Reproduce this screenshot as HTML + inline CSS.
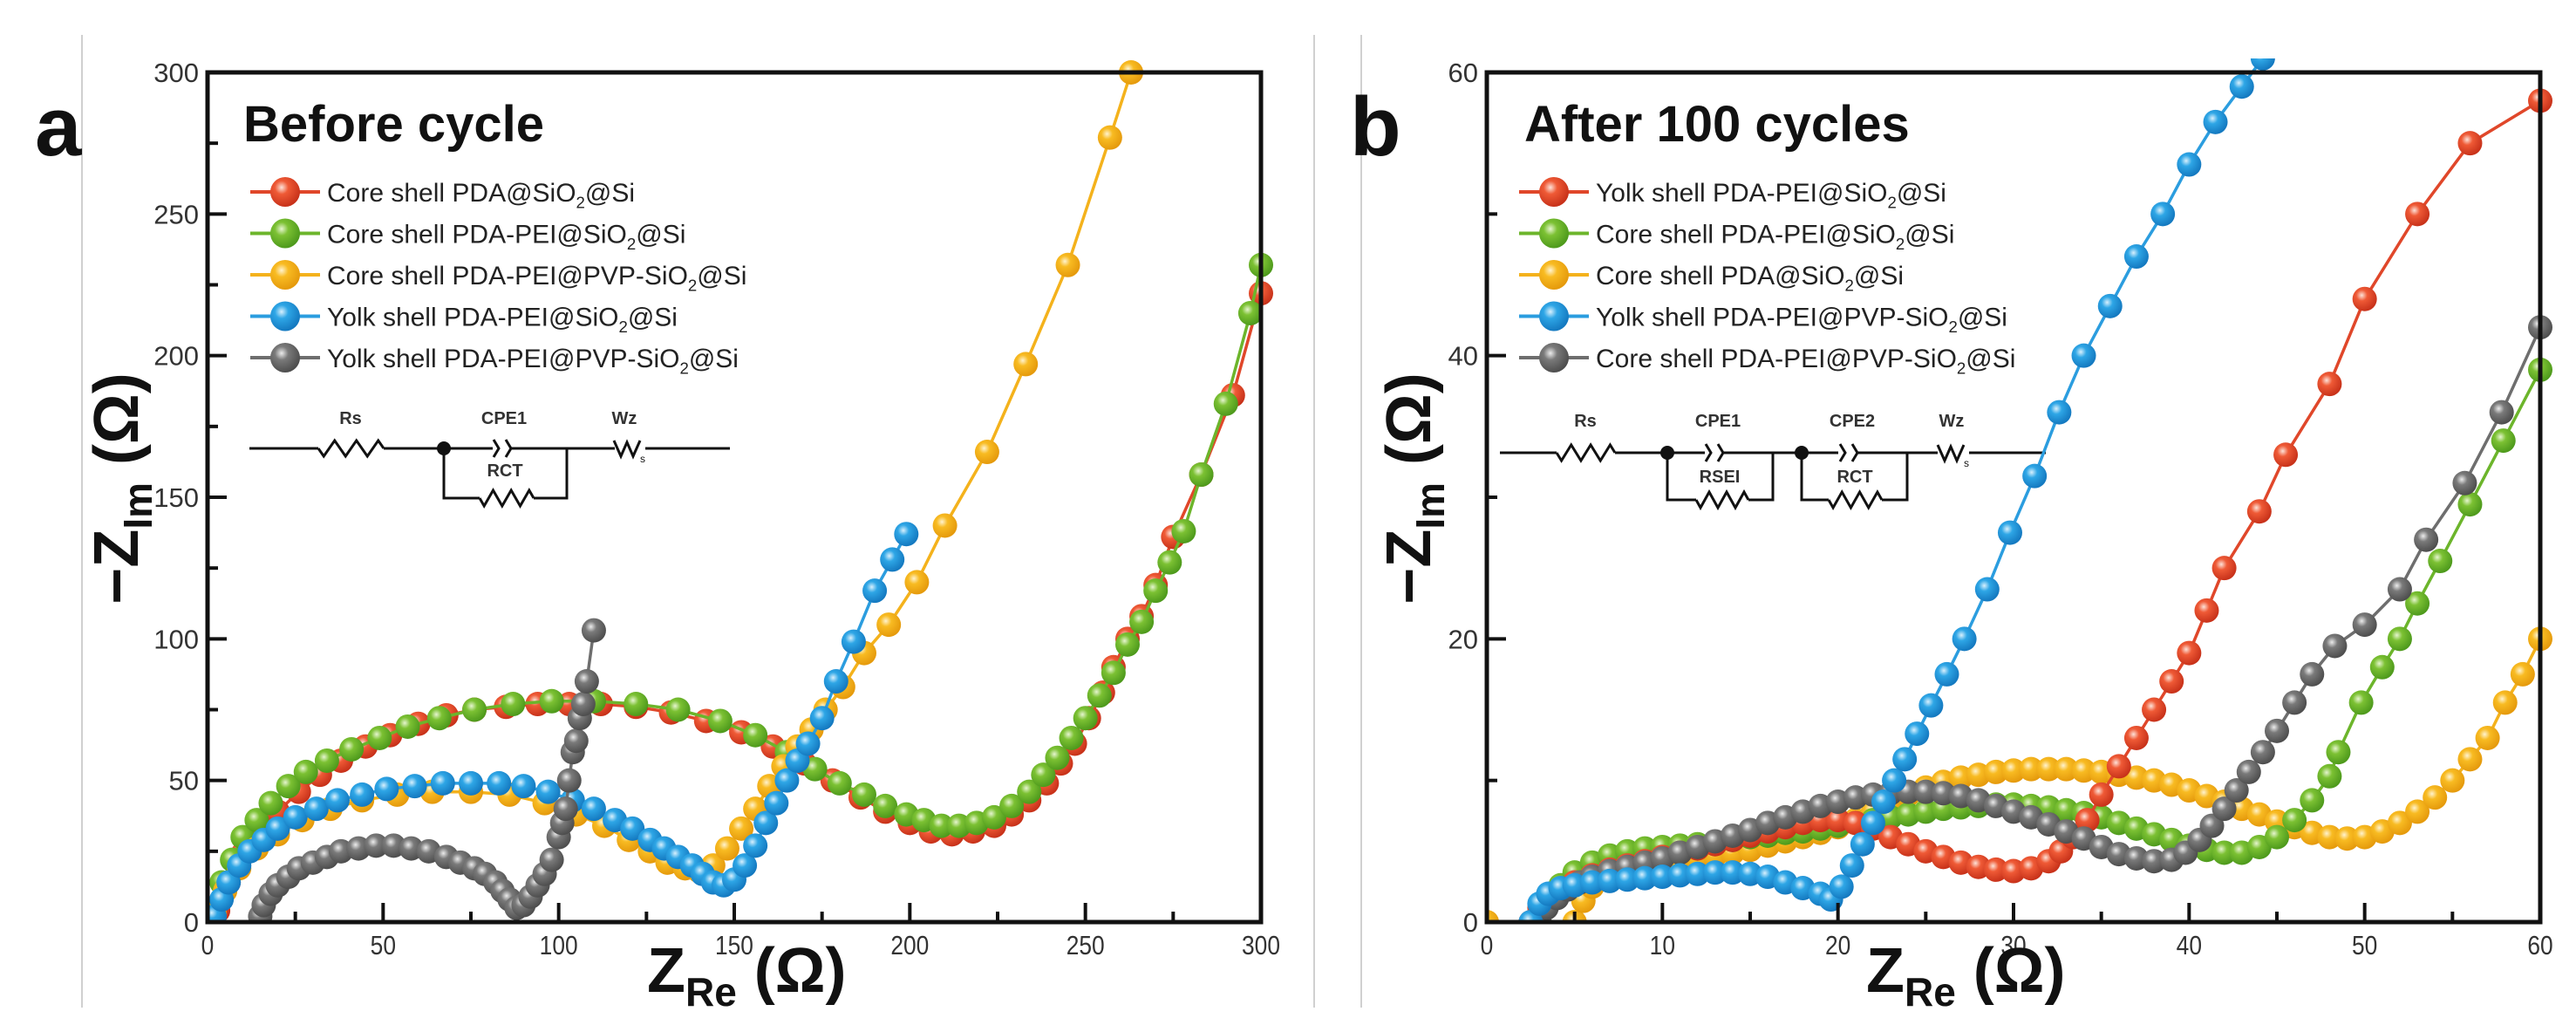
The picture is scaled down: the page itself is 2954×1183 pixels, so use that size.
<!DOCTYPE html>
<html><head><meta charset="utf-8">
<style>
html,body{margin:0;padding:0;background:#fff;}
svg{display:block;font-family:"Liberation Sans",Arial,sans-serif;}
</style></head>
<body>
<svg id="fig" width="2954" height="1183" viewBox="0 0 2954 1183" xmlns="http://www.w3.org/2000/svg">
<defs>
<radialGradient id="g-red" cx="0.38" cy="0.35" r="0.65"><stop offset="0" stop-color="#fde2d8"/><stop offset="0.35" stop-color="#ef5a36"/><stop offset="1" stop-color="#c8321a"/></radialGradient>
<radialGradient id="g-green" cx="0.38" cy="0.35" r="0.65"><stop offset="0" stop-color="#e6f5cf"/><stop offset="0.35" stop-color="#7cc133"/><stop offset="1" stop-color="#4e9a1c"/></radialGradient>
<radialGradient id="g-yellow" cx="0.38" cy="0.35" r="0.65"><stop offset="0" stop-color="#fff3cf"/><stop offset="0.35" stop-color="#f8bb22"/><stop offset="1" stop-color="#e59a0c"/></radialGradient>
<radialGradient id="g-blue" cx="0.38" cy="0.35" r="0.65"><stop offset="0" stop-color="#d8f0fd"/><stop offset="0.35" stop-color="#2ea6e6"/><stop offset="1" stop-color="#1479c0"/></radialGradient>
<radialGradient id="g-grey" cx="0.38" cy="0.35" r="0.65"><stop offset="0" stop-color="#ececec"/><stop offset="0.35" stop-color="#7a7a7a"/><stop offset="1" stop-color="#4e4e4e"/></radialGradient>
</defs>
<line x1="94" y1="40" x2="94" y2="1155" stroke="#d0d0d0" stroke-width="2"/>
<line x1="1507" y1="40" x2="1507" y2="1155" stroke="#d0d0d0" stroke-width="2"/>
<line x1="1561" y1="40" x2="1561" y2="1155" stroke="#d0d0d0" stroke-width="2"/>
<g id="panelA"></g>
<g id="panelB"></g>
</svg>
<script>
// ---------- Panel a data (Before cycle) ----------
const aXTicks = [0, 50, 100, 150, 200, 250, 300];
const aYTicks = [0, 50, 100, 150, 200, 250, 300];
const aLabels = ["Core shell PDA@SiO|2|@Si", "Core shell PDA-PEI@SiO|2|@Si", "Core shell PDA-PEI@PVP-SiO|2|@Si", "Yolk shell PDA-PEI@SiO|2|@Si", "Yolk shell PDA-PEI@PVP-SiO|2|@Si"];
const aColors = ["red", "green", "yellow", "blue", "grey"];
const aRedX = [3,6,10,15,20,26,32,38,45,52,60,68,76,85,94,103,112,122,132,142,152,161,170,178,186,193,200,206,212,218,224,229,234,239,243,247,251,255,258,262,266,270,275,283,292,300];
const aRedY = [4,14,24,32,39,46,52,57,62,66,70,73,75,76,77,77,77,76,74,71,67,62,56,50,44,39,35,32,31,32,34,38,43,49,56,63,72,81,90,100,108,119,136,158,186,222];
const aGreenX = [2,4,7,10,14,18,23,28,34,41,49,57,66,76,87,98,110,122,134,146,156,165,173,180,187,193,199,204,209,214,219,224,229,234,238,242,246,250,254,258,262,266,270,274,278,283,290,297,300];
const aGreenY = [5,14,22,30,36,42,48,53,57,61,65,69,72,75,77,78,78,77,75,71,66,60,54,49,45,41,38,36,34,34,35,37,41,46,52,58,65,72,80,88,98,106,117,127,138,158,183,215,232];
const aYellowX = [2,5,9,14,20,27,35,44,54,64,75,86,96,105,113,120,126,131,136,140,144,148,152,156,160,164,168,172,176,181,187,194,202,210,222,233,245,257,263];
const aYellowY = [3,11,19,26,31,36,40,43,45,46,46,45,42,38,34,29,25,21,19,18,20,26,33,40,48,55,62,68,75,83,95,105,120,140,166,197,232,277,300];
const aBlueX = [2,4,6,9,12,16,20,25,31,37,44,51,59,67,75,83,90,97,104,110,116,121,126,130,134,138,141,144,147,150,153,156,159,162,165,168,171,175,179,184,190,195,199];
const aBlueY = [2,8,14,20,25,29,33,37,40,43,45,47,48,49,49,49,48,46,43,40,36,33,29,26,23,20,17,14,13,15,20,27,35,42,50,57,63,72,85,99,117,128,137];
const aGreyX = [15,16,18,20,23,26,30,34,38,43,48,53,58,63,68,72,76,79,82,84,86,88,90,92,94,96,98,100,101,102,103,104,105,106,107,108,110];
const aGreyY = [2,6,10,13,16,19,21,23,25,26,27,27,26,25,23,21,19,17,14,11,8,5,6,9,13,17,22,30,35,40,50,60,64,72,77,85,103];

// ---------- Panel b data (After 100 cycles) ----------
const bXTicks = [0, 10, 20, 30, 40, 50, 60];
const bYTicks = [0, 20, 40, 60];
const bLabels = ["Yolk shell PDA-PEI@SiO|2|@Si", "Core shell PDA-PEI@SiO|2|@Si", "Core shell PDA@SiO|2|@Si", "Yolk shell PDA-PEI@PVP-SiO|2|@Si", "Core shell PDA-PEI@PVP-SiO|2|@Si"];
const bColors = ["red", "green", "yellow", "blue", "grey"];
const bRedX = [2.5,3,3.5,4.2,5,6,7,8,9,10,11,12,13,14,15,16,17,18,19,20,21,22,23,24,25,26,27,28,29,30,31,32,32.7,33.4,34.2,35,36,37,38,39,40,41,42,44,45.5,48,50,53,56,60];
const bRedY = [0,1,1.7,2.3,2.8,3.3,3.7,4,4.3,4.6,4.9,5.2,5.5,5.8,6.1,6.4,6.7,7,7.2,7.2,7,6.6,6,5.5,5,4.6,4.2,3.9,3.7,3.6,3.8,4.3,5,6,7.2,9,11,13,15,17,19,22,25,29,33,38,44,50,55,58];
const bGreenX = [3,3.5,4.2,5,6,7,8,9,10,11,12,13,14,15,16,17,18,19,20,21,22,23,24,25,26,27,28,29,30,31,32,33,34,35,36,37,38,39,40,41,42,43,44,45,46,47,48,48.5,49.8,51,52,53,54.3,56,57.9,60];
const bGreenY = [0,1.5,2.6,3.5,4.2,4.7,5,5.2,5.3,5.4,5.5,5.6,5.8,6,6.1,6.3,6.4,6.6,6.8,7,7.2,7.4,7.6,7.8,8,8.1,8.2,8.3,8.3,8.2,8.1,7.9,7.7,7.4,7,6.6,6.2,5.8,5.4,5.1,4.9,4.9,5.3,6,7.2,8.6,10.3,12,15.5,18,20,22.5,25.5,29.5,34,39];
const bYellowX = [0,5,5.5,6,7,8,9,10,11,12,13,14,15,16,17,18,19,20,21,22,23,24,25,26,27,28,29,30,31,32,33,34,35,36,37,38,39,40,41,42,43,44,45,46,47,48,49,50,51,52,53,54,55,56,57,58,59,60];
const bYellowY = [0,0,1.5,2.5,3.2,3.6,3.9,4.1,4.3,4.5,4.7,4.9,5.1,5.4,5.7,6,6.3,6.7,7.2,7.8,8.4,9,9.5,9.9,10.2,10.4,10.6,10.7,10.8,10.8,10.8,10.7,10.6,10.4,10.2,10,9.7,9.3,8.9,8.5,8,7.6,7.1,6.7,6.3,6,5.9,6,6.4,7,7.8,8.8,10,11.5,13,15.5,17.5,20];
const bBlueX = [2.5,3,3.5,4.2,5,6,7,8,9,10,11,12,13,14,15,16,17,18,19,19.6,20.2,20.8,21.4,22,22.6,23.2,23.8,24.5,25.3,26.2,27.2,28.5,29.8,31.2,32.6,34,35.5,37,38.5,40,41.5,43,44.2];
const bBlueY = [0,1.3,2,2.4,2.6,2.8,2.9,3,3.1,3.2,3.3,3.4,3.5,3.5,3.4,3.2,2.8,2.4,2,1.6,2.5,4,5.5,7,8.5,10,11.5,13.3,15.3,17.5,20,23.5,27.5,31.5,36,40,43.5,47,50,53.5,56.5,59,61];
const bGreyX = [3,3.4,4,4.6,5.3,6,7,8,9,10,11,12,13,14,15,16,17,18,19,20,21,22,23,24,25,26,27,28,29,30,31,32,33,34,35,36,37,38,39,39.8,40.6,41.3,42,42.7,43.4,44.2,45,46,47,48.3,50,52,53.5,55.7,57.8,60];
const bGreyY = [0,1,1.7,2.3,2.8,3.2,3.6,3.9,4.2,4.5,4.9,5.3,5.7,6.1,6.5,7,7.4,7.8,8.2,8.5,8.8,9,9.1,9.2,9.2,9.1,8.9,8.6,8.2,7.8,7.4,6.9,6.4,5.9,5.3,4.8,4.5,4.3,4.4,4.9,5.8,6.8,8,9.3,10.6,12,13.5,15.5,17.5,19.5,21,23.5,27,31,36,42];

const NS = "http://www.w3.org/2000/svg";
function mk(parent, tag, attrs, text) {
  const e = document.createElementNS(NS, tag);
  for (const k in attrs) e.setAttribute(k, attrs[k]);
  if (text !== undefined) e.textContent = text;
  parent.appendChild(e);
  return e;
}
const lineCol = {red:"#e0472a", green:"#6cb52b", yellow:"#f4b21c", blue:"#2b9ddf", grey:"#6e6e6e"};

function addLabelText(g, x, y, size, label) {
  const parts = label.split("|");
  const t = mk(g, "text", {x:x, y:y, "font-size":size, fill:"#222"});
  
  
  mk(t, "tspan", {}, parts[0]);
  mk(t, "tspan", {"font-size":size*0.62, dy:size*0.25}, parts[1]);
  mk(t, "tspan", {dy:-size*0.25}, parts[2]);
}

function drawPanel(g, cfg) {
  const L = cfg.L, R = cfg.R, T = 83, B = 1057;
  const sx = v => L + (v - cfg.xmin) / (cfg.xmax - cfg.xmin) * (R - L);
  const sy = v => B - (v - cfg.ymin) / (cfg.ymax - cfg.ymin) * (B - T);
  const cp = mk(g, "clipPath", {id: cfg.id + "-clip"});
  mk(cp, "rect", {x:L, y:T-16, width:R-L+16, height:B-T+16});
  const ttl = mk(g, "text", {x:cfg.titleX, y:162, "font-size":58, "font-weight":"bold", fill:"#111"}, cfg.title);
  
  
  const lt = mk(g, "text", {x:cfg.letterX, y:178, "font-size":96, "font-weight":"bold", fill:"#111"}, cfg.letter);
  
  
  cfg.labels.forEach((lab, i) => {
    const y = 220 + i * 47.5;
    const lg = mk(g, "g", {});
    
    
    mk(lg, "line", {x1:cfg.legX - 40, y1:y, x2:cfg.legX + 40, y2:y, stroke:lineCol[cfg.colors[i]], "stroke-width":4});
    mk(lg, "circle", {cx:cfg.legX, cy:y, r:17, fill:"url(#g-" + cfg.colors[i] + ")"});
    addLabelText(lg, cfg.legX + 48, y + 11, 30, lab);
  });
  cfg.circuit(g);
  cfg.series.forEach(s => {
    const sg = mk(g, "g", {"clip-path":"url(#" + cfg.id + "-clip)"});
    
    
    const pts = s.x.map((v, i) => sx(v).toFixed(1) + "," + sy(s.y[i]).toFixed(1)).join(" ");
    const pl = mk(sg, "polyline", {points:pts, fill:"none", stroke:lineCol[s.color], "stroke-width":3.5});
    
    
    s.x.forEach((v, i) => {
      const c = mk(sg, "circle", {cx:sx(v), cy:sy(s.y[i]), r:14, fill:"url(#g-" + s.color + ")"});
      
      
    });
  });
  const fr = mk(g, "rect", {x:L, y:T, width:R-L, height:B-T, fill:"none", stroke:"#111", "stroke-width":5});
  
  
  cfg.xticks.forEach((v, i) => {
    const x = sx(v);
    mk(g, "line", {x1:x, y1:B, x2:x, y2:B-22, stroke:"#111", "stroke-width":4});
    if (i < cfg.xticks.length - 1) { const xm = sx(v + cfg.xstep/2); mk(g, "line", {x1:xm, y1:B, x2:xm, y2:B-12, stroke:"#111", "stroke-width":4}); }
    const t = mk(g, "text", {x:x, y:1094, "font-size":31, "text-anchor":"middle", fill:"#333", transform:"translate(" + x + ",0) scale(0.85,1) translate(" + (-x) + ",0)"}, String(v));
    
    
  });
  cfg.yticks.forEach((v, i) => {
    const y = sy(v);
    mk(g, "line", {x1:L, y1:y, x2:L+22, y2:y, stroke:"#111", "stroke-width":4});
    if (i < cfg.yticks.length - 1) { const ym = sy(v + cfg.ystep/2); mk(g, "line", {x1:L, y1:ym, x2:L+12, y2:ym, stroke:"#111", "stroke-width":4}); }
    const t = mk(g, "text", {x:L-10, y:y+11, "font-size":31, "text-anchor":"end", fill:"#333"}, String(v));
    
    
  });
  const xt = mk(g, "text", {x:cfg.xTitleX, y:1137, "font-size":72, "font-weight":"bold", fill:"#111"});
  
  
  mk(xt, "tspan", {}, "Z");
  mk(xt, "tspan", {"font-size":46, dy:16}, "Re");
  mk(xt, "tspan", {dy:-16}, " (Ω)");
  const yx = cfg.yTitleX, yy = 560;
  const yt = mk(g, "text", {x:yx, y:yy, "font-size":72, "font-weight":"bold", fill:"#111", "text-anchor":"middle", transform:"rotate(-90 " + yx + " " + yy + ")"});
  
  
  mk(yt, "tspan", {}, "−Z");
  mk(yt, "tspan", {"font-size":46, dy:16}, "Im");
  mk(yt, "tspan", {dy:-16}, " (Ω)");
}

function resistor(g, x1, x2, y) {
  const n = 3, w = (x2 - x1) / (n * 2);
  let d = "M" + x1 + "," + y;
  for (let i = 0; i < n * 2; i++) d += " L" + (x1 + w * (i + 0.5)) + "," + (y + (i % 2 ? -9 : 9));
  d += " L" + x2 + "," + y;
  mk(g, "path", {d:d, fill:"none", stroke:"#111", "stroke-width":3});
}
function cpe(g, x, y) {
  mk(g, "path", {d:"M"+(x-6)+","+(y-10)+" L"+x+","+y+" L"+(x-6)+","+(y+10)+" M"+(x+8)+","+(y-10)+" L"+(x+14)+","+y+" L"+(x+8)+","+(y+10), fill:"none", stroke:"#111", "stroke-width":3});
}
function lbl(g, x, y, s) { mk(g, "text", {x:x, y:y, "font-size":20, "font-weight":"bold", "text-anchor":"middle", fill:"#333"}, s); }
function warburg(g, x, y) {
  mk(g, "path", {d:"M"+(x-18)+","+(y-9)+" L"+(x-10)+","+(y+9)+" L"+(x-3)+","+(y-7)+" L"+(x+4)+","+(y+9)+" L"+(x+12)+","+(y-9), fill:"none", stroke:"#111", "stroke-width":3});
  mk(g, "text", {x:x+12, y:y+16, "font-size":12, fill:"#111"}, "s");
}

function circuitA(g) {
  const c = mk(g, "g", {});
  
  
  const y = 514;
  mk(c, "line", {x1:286, y1:y, x2:365, y2:y, stroke:"#111", "stroke-width":3});
  resistor(c, 365, 440, y); lbl(c, 402, y-28, "Rs");
  mk(c, "line", {x1:440, y1:y, x2:565, y2:y, stroke:"#111", "stroke-width":3});
  mk(c, "circle", {cx:509, cy:y, r:8, fill:"#111"});
  cpe(c, 572, y); lbl(c, 578, y-28, "CPE1");
  mk(c, "line", {x1:586, y1:y, x2:705, y2:y, stroke:"#111", "stroke-width":3});
  mk(c, "polyline", {points:"509,"+y+" 509,571 550,571", fill:"none", stroke:"#111", "stroke-width":3});
  resistor(c, 550, 612, 571); lbl(c, 579, y+32, "RCT");
  mk(c, "polyline", {points:"612,571 650,571 650,"+y, fill:"none", stroke:"#111", "stroke-width":3});
  warburg(c, 722, y); lbl(c, 716, y-28, "Wz");
  mk(c, "line", {x1:740, y1:y, x2:837, y2:y, stroke:"#111", "stroke-width":3});
}
function circuitB(g) {
  const c = mk(g, "g", {});
  
  
  const y = 519, yb = 573;
  mk(c, "line", {x1:1720, y1:y, x2:1785, y2:y, stroke:"#111", "stroke-width":3});
  resistor(c, 1785, 1852, y); lbl(c, 1818, y-30, "Rs");
  mk(c, "line", {x1:1852, y1:y, x2:1955, y2:y, stroke:"#111", "stroke-width":3});
  mk(c, "circle", {cx:1912, cy:y, r:8, fill:"#111"});
  cpe(c, 1962, y); lbl(c, 1970, y-30, "CPE1");
  mk(c, "line", {x1:1976, y1:y, x2:2108, y2:y, stroke:"#111", "stroke-width":3});
  mk(c, "polyline", {points:"1912,"+y+" 1912,"+yb+" 1945,"+yb, fill:"none", stroke:"#111", "stroke-width":3});
  resistor(c, 1945, 2005, yb); lbl(c, 1972, y+34, "RSEI");
  mk(c, "polyline", {points:"2005,"+yb+" 2033,"+yb+" 2033,"+y, fill:"none", stroke:"#111", "stroke-width":3});
  mk(c, "circle", {cx:2066, cy:y, r:8, fill:"#111"});
  cpe(c, 2116, y); lbl(c, 2124, y-30, "CPE2");
  mk(c, "line", {x1:2130, y1:y, x2:2222, y2:y, stroke:"#111", "stroke-width":3});
  mk(c, "polyline", {points:"2066,"+y+" 2066,"+yb+" 2097,"+yb, fill:"none", stroke:"#111", "stroke-width":3});
  resistor(c, 2097, 2158, yb); lbl(c, 2127, y+34, "RCT");
  mk(c, "polyline", {points:"2158,"+yb+" 2187,"+yb+" 2187,"+y, fill:"none", stroke:"#111", "stroke-width":3});
  warburg(c, 2240, y); lbl(c, 2238, y-30, "Wz");
  mk(c, "line", {x1:2258, y1:y, x2:2346, y2:y, stroke:"#111", "stroke-width":3});
}

drawPanel(document.getElementById("panelA"), {
  id:"pa", L:238, R:1446, xmin:0, xmax:300, ymin:0, ymax:300, xstep:50, ystep:50,
  xticks:aXTicks, yticks:aYTicks, labels:aLabels, colors:aColors,
  title:"Before cycle", titleX:279, letter:"a", letterX:40, legX:327,
  xTitleX:742, yTitleX:158, circuit:circuitA,
  series:[
    {name:"core-shell-pda-sio2-si", color:"red", x:aRedX, y:aRedY},
    {name:"core-shell-pda-pei-sio2-si", color:"green", x:aGreenX, y:aGreenY},
    {name:"core-shell-pda-pei-pvp-sio2-si", color:"yellow", x:aYellowX, y:aYellowY},
    {name:"yolk-shell-pda-pei-sio2-si", color:"blue", x:aBlueX, y:aBlueY},
    {name:"yolk-shell-pda-pei-pvp-sio2-si", color:"grey", x:aGreyX, y:aGreyY}
  ]
});
drawPanel(document.getElementById("panelB"), {
  id:"pb", L:1705, R:2913, xmin:0, xmax:60, ymin:0, ymax:60, xstep:10, ystep:20,
  xticks:bXTicks, yticks:bYTicks, labels:bLabels, colors:bColors,
  title:"After 100 cycles", titleX:1748, letter:"b", letterX:1548, legX:1782,
  xTitleX:2140, yTitleX:1640, circuit:circuitB,
  series:[
    {name:"core-shell-pda-sio2-si", color:"yellow", x:bYellowX, y:bYellowY},
    {name:"core-shell-pda-pei-sio2-si", color:"green", x:bGreenX, y:bGreenY},
    {name:"yolk-shell-pda-pei-sio2-si", color:"red", x:bRedX, y:bRedY},
    {name:"core-shell-pda-pei-pvp-sio2-si", color:"grey", x:bGreyX, y:bGreyY},
    {name:"yolk-shell-pda-pei-pvp-sio2-si", color:"blue", x:bBlueX, y:bBlueY}
  ]
});
</script>
</body></html>
